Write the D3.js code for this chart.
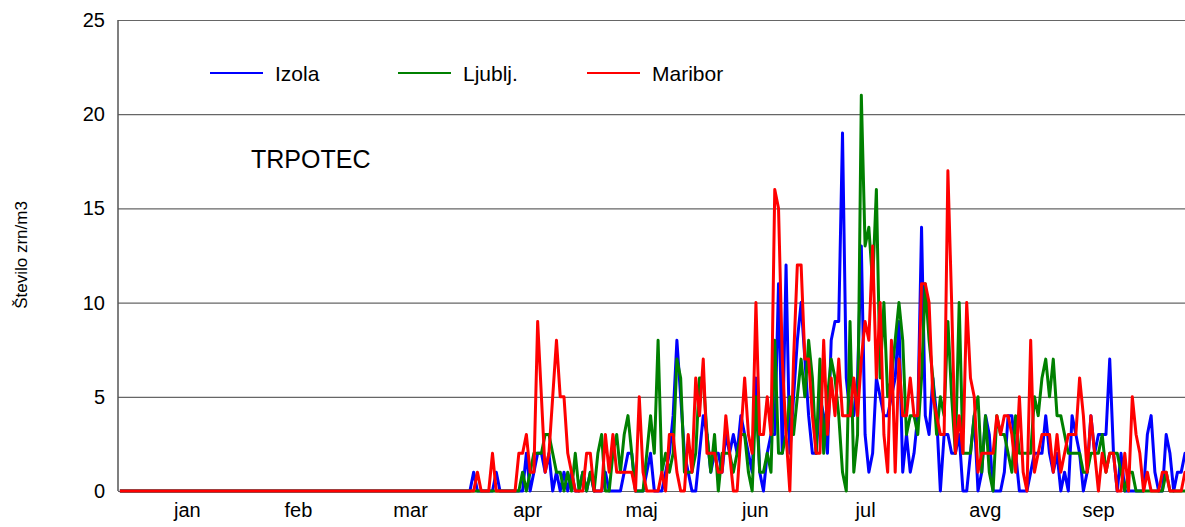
<!DOCTYPE html>
<html>
<head>
<meta charset="utf-8">
<script src="https://cdn.jsdelivr.net/npm/d3@7/dist/d3.min.js"></script>
<style>
  body { margin: 0; background: #fff; }
  svg { display: block; font-family: "Liberation Sans", Arial, sans-serif; }
</style>
</head>
<body>
<div id="chart"></div>
<script>
// month labels and where they sit on the day axis
const months = ["jan", "feb", "mar", "apr", "maj", "jun", "jul", "avg", "sep"];
const monthPos = [17.8, 47.3, 77.1, 108.2, 138.5, 168.7, 198, 229.8, 259.9];
const yTicks = [0, 5, 10, 15, 20, 25];
const seriesNames = ["Izola", "Ljublj.", "Maribor"];

// daily counts, day 0 = first day of the chart
const izola = [
  0,0,0,0,0,0,0,0,0,0, 0,0,0,0,0,0,0,0,0,0, 0,0,0,0,0,0,0,0,0,0, 0,0,0,0,0,0,0,0,0,0,
  0,0,0,0,0,0,0,0,0,0, 0,0,0,0,0,0,0,0,0,0, 0,0,0,0,0,0,0,0,0,0, 0,0,0,0,0,0,0,0,0,0,
  0,0,0,0,0,0,0,0,0,0, 0,0,0,0,1,0,0,0,0,0,
  1,0,0,0,0,0,0,0,2,0, 1,2,2,1,2,0,1,0,1,0, 1,0,0,1,0,1,0,0,0,1, 0,0,0,0,1,2,2,0,0,0,
  1,2,0,0,0,1,2,4,8,5, 2,1,0,0,2,4,3,1,2,2, 1,3,2,3,2,4,3,2,1,6, 1,0,2,3,3,11,2,12,2,5,
  8,10,7,4,2,2,5,4,2,8, 9,9,19,6,4,4,6,13,3,1, 2,6,5,4,4,5,6,9,1,3, 1,2,4,14,4,3,6,4,0,3,
  3,2,2,3,0,0,2,4,0,1, 4,3,0,0,0,1,4,4,2,0, 0,0,1,2,2,2,4,2,1,2, 0,1,0,4,3,2,0,1,4,2,
  3,3,3,7,2,0,2,0,0,0, 0,0,0,3,4,1,0,0,3,2, 0,1,1,2,2,3
];
const ljubljana = [
  0,0,0,0,0,0,0,0,0,0, 0,0,0,0,0,0,0,0,0,0, 0,0,0,0,0,0,0,0,0,0, 0,0,0,0,0,0,0,0,0,0,
  0,0,0,0,0,0,0,0,0,0, 0,0,0,0,0,0,0,0,0,0, 0,0,0,0,0,0,0,0,0,0, 0,0,0,0,0,0,0,0,0,0,
  0,0,0,0,0,0,0,0,0,0, 0,0,0,0,0,0,0,0,0,0,
  0,0,0,0,0,0,0,1,0,1, 2,2,2,3,3,2,1,1,0,1, 0,2,0,1,0,1,0,2,3,0, 0,2,3,1,3,4,2,0,0,0,
  2,4,2,8,1,2,1,2,7,6, 1,1,1,2,6,6,3,1,3,0, 2,2,2,1,2,3,3,1,0,5, 1,1,2,1,8,2,2,3,5,3,
  5,7,5,8,6,2,7,2,5,7, 6,4,1,0,9,1,3,21,13,14, 11,16,6,10,5,6,8,10,8,3, 4,4,3,6,11,8,6,3,5,4,
  9,5,2,10,2,2,2,4,5,1, 4,1,0,4,3,3,2,1,4,2, 2,2,2,5,4,6,7,5,7,4, 4,3,2,2,2,2,1,1,2,2,
  2,3,1,2,2,2,1,0,1,1, 0,0,0,0,0,0,0,0,1,0, 0,0,0,0,0,0
];
const maribor = [
  0,0,0,0,0,0,0,0,0,0, 0,0,0,0,0,0,0,0,0,0, 0,0,0,0,0,0,0,0,0,0, 0,0,0,0,0,0,0,0,0,0,
  0,0,0,0,0,0,0,0,0,0, 0,0,0,0,0,0,0,0,0,0, 0,0,0,0,0,0,0,0,0,0, 0,0,0,0,0,0,0,0,0,0,
  0,0,0,0,0,0,0,0,0,0, 0,0,0,0,0,1,0,0,0,2,
  0,0,0,0,0,0,2,2,3,1, 1,9,5,1,2,5,8,5,5,2, 1,0,0,0,2,2,0,0,0,3, 1,3,1,1,1,1,1,0,5,1,
  0,0,0,0,1,0,3,3,1,0, 0,3,1,6,4,7,2,2,2,1, 1,4,2,0,0,3,6,3,2,10, 3,3,5,3,16,15,7,3,0,7,
  12,12,7,7,4,2,2,8,3,6, 4,7,4,4,4,6,4,7,9,8, 13,6,10,3,1,8,1,7,4,4, 6,4,4,11,11,10,5,4,3,3,
  17,10,2,4,2,10,6,5,1,2, 2,2,2,4,3,4,4,3,1,5, 1,0,8,1,2,3,3,3,1,3, 1,2,3,3,3,6,4,1,4,2,
  0,2,1,2,2,0,0,2,0,5, 3,2,0,1,0,0,0,1,1,0, 0,0,0,1,1,1
];
const colors = ["#0000ff", "#008000", "#ff0000"];

const W = 1185, H = 527;
const plotLeft = 118, plotTop = 20, plotBottom = 491;

const svg = d3.select("#chart").append("svg")
    .attr("width", W)
    .attr("height", H);

const x = d3.scaleLinear().domain([-0.5, 283]).range([plotLeft, W]);
const y = d3.scaleLinear().domain([0, 25]).range([plotBottom, plotTop]);

// gridlines + y labels
const yAxis = svg.append("g")
    .attr("transform", "translate(" + plotLeft + ",0)")
    .call(d3.axisLeft(y).tickValues(yTicks).tickSize(-(W - plotLeft)).tickPadding(13));
yAxis.select(".domain").remove();
yAxis.selectAll("line").attr("stroke", "#666").attr("stroke-width", 1.2);
yAxis.selectAll("text")
    .attr("font-size", "20px")
    .attr("fill", "#000");

// left axis line
svg.append("line")
    .attr("x1", plotLeft).attr("x2", plotLeft)
    .attr("y1", plotTop).attr("y2", plotBottom)
    .attr("stroke", "#555")
    .attr("stroke-width", 1.5);

// month labels
const xAxis = svg.append("g")
    .attr("transform", "translate(0," + plotBottom + ")")
    .call(d3.axisBottom(x).tickValues(monthPos).tickSize(0).tickPadding(12)
        .tickFormat(function(d, i) { return months[i]; }));
xAxis.select(".domain").remove();
xAxis.selectAll("text")
    .attr("font-size", "20px")
    .attr("fill", "#000");

// series lines
svg.append("clipPath").attr("id", "plotclip")
    .append("rect")
    .attr("x", plotLeft).attr("y", 0)
    .attr("width", W - plotLeft).attr("height", H);

const line = d3.line()
    .x(function(d, i) { return x(i); })
    .y(function(d) { return y(d); });

svg.append("g")
    .attr("clip-path", "url(#plotclip)")
    .selectAll("path")
    .data([izola, ljubljana, maribor])
    .enter().append("path")
    .attr("d", line)
    .attr("fill", "none")
    .attr("stroke", function(d, i) { return colors[i]; })
    .attr("stroke-width", 3)
    .attr("stroke-linejoin", "round");

// legend
const legendX = [210, 398, 587];
const legend = svg.append("g")
    .selectAll("g")
    .data(seriesNames)
    .enter().append("g")
    .attr("transform", function(d, i) { return "translate(" + legendX[i] + ",73)"; });

legend.append("line")
    .attr("x1", 0).attr("x2", 53)
    .attr("stroke", function(d, i) { return colors[i]; })
    .attr("stroke-width", 2);

legend.append("text")
    .attr("x", 65)
    .attr("y", 8)
    .attr("font-size", "21px")
    .text(function(d) { return d; });

// title inside the plot
svg.append("text")
    .attr("x", 251)
    .attr("y", 168)
    .attr("font-size", "25px")
    .text("TRPOTEC");

// y axis title
svg.append("text")
    .attr("transform", "translate(27,255) rotate(-90)")
    .attr("text-anchor", "middle")
    .attr("font-size", "17px")
    .text("Število zrn/m3");
</script>
</body>
</html>
